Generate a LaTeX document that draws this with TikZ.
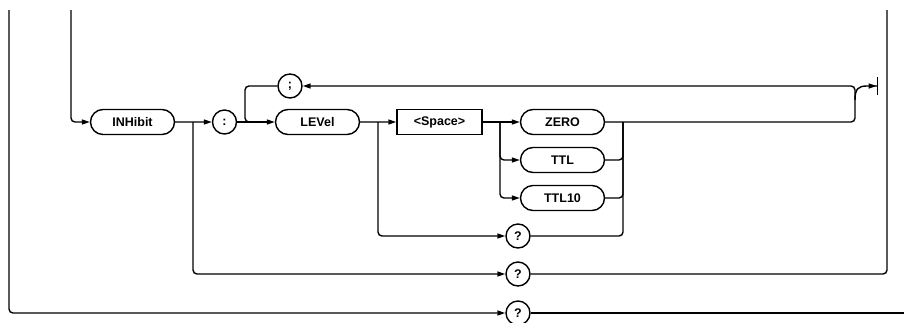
\documentclass[tikz,border=0pt]{standalone}
\usepackage{fontspec}
\setmainfont{Liberation Sans}
\usetikzlibrary{positioning, arrows.meta, shapes.misc}

\begin{document}
\begin{tikzpicture}[x=1pt, y=-1pt, line width=1.4pt, font=\fontsize{12.5}{15}\selectfont\bfseries,
  kw/.style={draw, rounded rectangle, minimum width=84pt, minimum height=25pt, inner sep=0pt},
  sym/.style={draw, circle, minimum size=24pt, inner sep=0pt},
  sp/.style={draw, rectangle, minimum width=85pt, minimum height=25pt, inner sep=0pt},
  link/.style={rounded corners=4pt},
  feed/.style={link, -{Triangle[length=8pt, width=5pt]}}]
  \useasboundingbox (0,0) rectangle (904,322);

  \node[kw] (inh) at (132.5,122) {INHibit};
  \node[sym] (colon) at (224.5,122) {:};
  \node[sym] (semi) at (290,86) {;};
  \node[kw] (lev) at (317.5,122) {LEVel};
  \node[sp] (space) at (439.5,122) {<Space>};
  \node[kw] (zero) at (562.5,122) {ZERO};
  \node[kw] (ttl) at (562.5,160) {TTL};
  \node[kw] (ttlx) at (562.5,198) {TTL10};
  \foreach \n/\y in {qlev/236, qinh/274, qall/313}
    \node[sym] (\n) at (518,\y) {?};

  \coordinate (top1) at (9,10);
  \coordinate (top2) at (71,10);
  \coordinate (top3) at (887,10);
  \coordinate (out) at (904,313);
  \coordinate (b1) at (193,122);
  \coordinate (b2) at (245,122);
  \coordinate (b3) at (378,122);
  \coordinate (b4) at (500,122);
  \coordinate (m1) at (623,122);
  \coordinate (j1) at (855,86);
  \coordinate (j2) at (855,100);
  \coordinate (fin) at (878,86);

  \draw[feed] (top1) |- (qall);
  \draw (qall) -- (out);
  \draw[feed] (top2) |- (inh);
  \draw[feed] (inh) -- (colon);
  \draw[feed] (b1) |- (qinh);
  \draw[link] (qinh) -| (top3);
  \draw[feed] (colon) -- (lev);
  \draw[link] (semi) -| (b2) -- ++(12,0);
  \draw[feed] (lev) -- (space);
  \draw[feed] (b3) |- (qlev);
  \draw[feed] (space) -- (zero);
  \foreach \n in {ttl, ttlx}
    \draw[feed] (b4) |- (\n);
  \foreach \n in {ttl, ttlx, qlev}
    \draw[link] (\n) -| (m1);
  \draw[feed] (zero) -| (j1) -- (semi);
  \draw[-{Triangle[length=8pt, width=5pt] Bar[width=18pt, sep=0pt]}] (j2) .. controls (855,89) and (858,86) .. (867,86) -- (fin);
\end{tikzpicture}
\end{document}
